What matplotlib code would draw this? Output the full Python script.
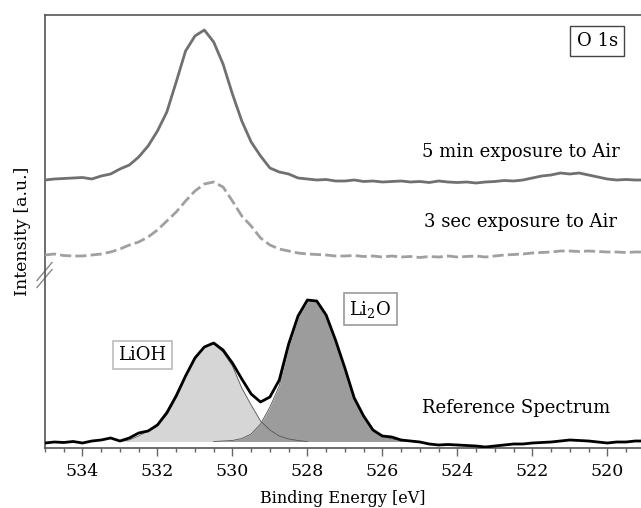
import numpy as np
import matplotlib
matplotlib.use("Agg")
import matplotlib.pyplot as plt

plt.rcParams['font.family'] = ['DejaVu Serif']
plt.rcParams['mathtext.fontset'] = 'dejavuserif'

### ------------------- Data -------------------

# binding energy grid [eV], 0.25 eV steps from 535 down to 519
energy = np.linspace(535.0, 519.0, 65)

# spectra, intensity in a.u. (offset stacked as in the figure)
air_5min = [268, 269, 269.5, 270, 270.5, 269, 272, 274, 279, 283,
            291, 302, 317, 336, 366, 397, 412, 418, 406, 384,
            354, 327, 306, 292, 280, 276, 274, 270, 269, 268,
            268.5, 267, 267, 268, 266.5, 267, 266, 266.5, 267, 266,
            266.5, 265.5, 267, 266, 265.5, 266, 265, 266, 266.5, 267.5,
            267, 268, 270, 272, 273, 275, 274, 275, 273, 271,
            269, 268, 268.5, 268, 268]

air_3sec = [193, 194, 192.5, 192, 192, 193, 194, 196, 199, 203,
            206, 211, 218, 227, 236, 247, 257, 264, 266, 261,
            247, 232, 222, 210, 203, 199, 197, 195, 194, 193.5,
            193, 192, 192, 192.5, 191.5, 192, 191, 192, 191, 191.5,
            190.5, 191.5, 191, 192, 191, 191.5, 192, 191, 192, 193,
            193.5, 194, 195, 195.5, 196, 197, 197, 196.5, 197, 196.5,
            196, 196, 195.5, 196, 196]

reference = [5, 6, 5.5, 6.5, 5, 7, 8, 10, 7, 10,
             15, 17, 23, 35, 52, 72, 90, 101, 105, 98,
             85, 69, 54, 46, 51, 68, 104, 132, 148, 147,
             133, 108, 80, 50, 32, 18, 12, 11, 8, 7,
             6, 4, 3, 3.5, 3, 2.5, 2, 1, 2, 3,
             4, 4, 5, 5.5, 6, 7, 8, 7.5, 7, 6,
             5, 6, 6, 7, 7]

# fitted components
lioh_energy = [533.0, 532.75, 532.5, 532.25, 532.0, 531.75, 531.5, 531.25, 531.0, 530.75,
               530.5, 530.25, 530.0, 529.75, 529.5, 529.25, 529.0, 528.75, 528.5, 528.25, 528.0]
lioh = [6.5, 8, 12, 17, 24, 37, 54, 73, 91, 101,
        104, 96, 82, 60, 43, 27, 18, 12, 9, 7.5, 6.5]

li2o_energy = [530.5, 530.25, 530.0, 529.75, 529.5, 529.25, 529.0, 528.75, 528.5, 528.25, 528.0,
               527.75, 527.5, 527.25, 527.0, 526.75, 526.5, 526.25, 526.0, 525.75, 525.5, 525.25]
li2o = [6.5, 7, 7.5, 9.5, 14, 24, 41, 62, 101, 130, 146,
        147, 133, 108, 80, 51, 32, 18, 12, 9, 7.5, 6.5]

fit_baseline = 6.5

### ------------------- Plot -------------------

fig = plt.figure(figsize=(6.41, 5.08), dpi=100)
ax = fig.add_axes([45/641, 60/508, 596/641, 433/508])

ax.fill_between(lioh_energy, fit_baseline, lioh, color='#d6d6d6', lw=0, zorder=1)
ax.fill_between(li2o_energy, fit_baseline, li2o, color='#9c9c9c', lw=0, zorder=2)
ax.plot(lioh_energy, lioh, color='#555555', lw=0.6, zorder=3)
ax.plot(li2o_energy, li2o, color='#555555', lw=0.6, zorder=3)

ax.plot(energy, reference, color='black', lw=2.0, zorder=4, solid_joinstyle='round')
ax.plot(energy, air_3sec, color='#a0a0a0', lw=2.0, ls=(0, (4, 1.5)), zorder=4)
ax.plot(energy, air_5min, color='#707070', lw=2.0, zorder=4, solid_joinstyle='round')

ax.set_xlim(535, 519.1)
ax.set_ylim(0, 433)

ax.set_xticks(np.arange(534, 519, -2))
ax.set_xticks(np.arange(535, 519, -0.5), minor=True)
ax.set_yticks([])
ax.tick_params(axis='x', which='major', length=6, width=1, color='#666666', labelsize=12.5, pad=5)
ax.tick_params(axis='x', which='minor', length=3, width=1, color='#666666')

for side in ['left', 'bottom', 'top']:
    ax.spines[side].set_color('#555555')
    ax.spines[side].set_linewidth(1.2)
ax.spines['right'].set_visible(False)

ax.set_xlabel('Binding Energy [eV]', fontsize=11.5, labelpad=7)
ax.set_ylabel('Intensity [a.u.]', fontsize=12.5, labelpad=10)

# axis break marks on the left spine
yb = (448 - 275) / 433
for off in (-3.5, 3.5):
    ax.plot([-8/596, 7/596], [yb + (off - 9)/433, yb + (off + 9)/433],
            transform=ax.transAxes, color='#888888', lw=1, clip_on=False)

ax.text(524.93, 296, '5 min exposure to Air', fontsize=13, ha='left', va='center')
ax.text(524.9, 226, '3 sec exposure to Air', fontsize=13, ha='left', va='center')
ax.text(524.93, 40, 'Reference Spectrum', fontsize=13, ha='left', va='center')

ax.text(520.27, 407, 'O 1s', fontsize=13, ha='center', va='center',
        bbox=dict(boxstyle='square,pad=0.35', fc='white', ec='#444444', lw=1))
ax.text(532.4, 93, 'LiOH', fontsize=13, ha='center', va='center',
        bbox=dict(boxstyle='square,pad=0.3', fc='white', ec='#bbbbbb', lw=1.2))
ax.text(526.32, 139, 'Li$_2$O', fontsize=13, ha='center', va='center',
        bbox=dict(boxstyle='square,pad=0.3', fc='white', ec='#999999', lw=1.2))

fig.savefig('out.png', dpi=100)
